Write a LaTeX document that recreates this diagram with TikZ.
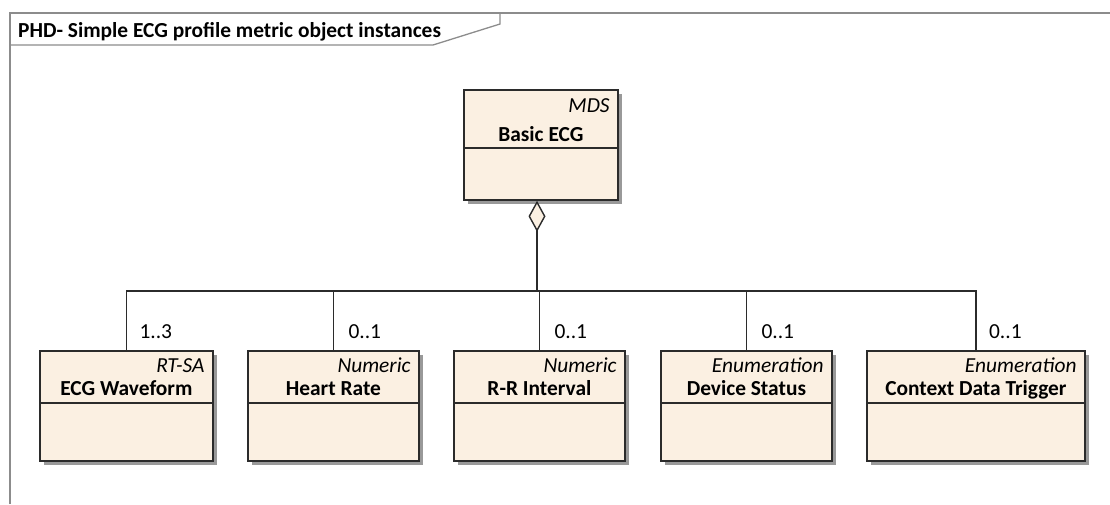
\documentclass[tikz,border=0pt]{standalone}
\usepackage{fontspec}
\setmainfont{Carlito}
\usetikzlibrary{shapes, arrows.meta, positioning, shadows}
\definecolor{clsfill}{HTML}{FBF0E2}
\definecolor{clsline}{HTML}{2B2B2B}
\definecolor{framecol}{HTML}{8C8C8C}
\tikzstyle{every node}=[font=\fontsize{21.4}{25}\selectfont, inner sep=0pt]
\tikzstyle{block}=[draw=clsline,fill=clsfill,rectangle,line width=1.8pt,anchor=north west,
  drop shadow={shadow xshift=4pt,shadow yshift=-4pt,opacity=0.4,fill=black}]
\tikzstyle{stereo}=[font=\fontsize{21.4}{25}\selectfont\itshape, anchor=base east]
\tikzstyle{cname}=[font=\fontsize{21.4}{25}\selectfont\bfseries, anchor=base]
\tikzstyle{mult}=[anchor=base west]
\tikzstyle{link}=[draw=clsline, line width=1.6pt]

\begin{document}
\begin{tikzpicture}[x=1pt,y=-1pt]
    \useasboundingbox (0,0) rectangle (1110,504);
    % frame
    \draw[framecol, line width=1.3pt] (10,504) -- (10,13) -- (1110,13);
    \draw[framecol, line width=1.3pt] (10,45) -- (433,45) -- (500,24) -- (500,13);
    \node[font=\fontsize{21.4}{25}\selectfont\bfseries, anchor=base west] (frametitle) at (18,37) {PHD- Simple ECG profile metric object instances};

    % MDS
    \node[block, minimum width=154pt, minimum height=110pt] (mds) at (463,89) {};
    \draw[link] ([yshift=-59pt]mds.north west) -- ([yshift=-59pt]mds.north east);
    \node[stereo] (mdsS) at ([xshift=-9pt,yshift=-23pt]mds.north east) {MDS};
    \node[cname] (mdsN) at ([yshift=-52pt]mds.north) {Basic ECG};

    % metric objects
    \node[block, minimum width=173pt, minimum height=110pt] (wave) at (39,350) {};
    \draw[link] ([yshift=-53pt]wave.north west) -- ([yshift=-53pt]wave.north east);
    \node[stereo] (waveS) at ([xshift=-9pt,yshift=-22pt]wave.north east) {RT-SA};
    \node[cname] (waveN) at ([yshift=-45pt]wave.north) {ECG Waveform};

    \node[block, minimum width=171pt, minimum height=110pt] (hr) at (247,350) {};
    \draw[link] ([yshift=-53pt]hr.north west) -- ([yshift=-53pt]hr.north east);
    \node[stereo] (hrS) at ([xshift=-9pt,yshift=-22pt]hr.north east) {Numeric};
    \node[cname] (hrN) at ([yshift=-45pt]hr.north) {Heart Rate};

    \node[block, minimum width=171pt, minimum height=110pt] (rr) at (453,350) {};
    \draw[link] ([yshift=-53pt]rr.north west) -- ([yshift=-53pt]rr.north east);
    \node[stereo] (rrS) at ([xshift=-9pt,yshift=-22pt]rr.north east) {Numeric};
    \node[cname] (rrN) at ([yshift=-45pt]rr.north) {R-R Interval};

    \node[block, minimum width=171pt, minimum height=110pt] (dev) at (660,350) {};
    \draw[link] ([yshift=-53pt]dev.north west) -- ([yshift=-53pt]dev.north east);
    \node[stereo] (devS) at ([xshift=-9pt,yshift=-22pt]dev.north east) {Enumeration};
    \node[cname] (devN) at ([yshift=-45pt]dev.north) {Device Status};

    \node[block, minimum width=218pt, minimum height=110pt] (ctx) at (866,350) {};
    \draw[link] ([yshift=-53pt]ctx.north west) -- ([yshift=-53pt]ctx.north east);
    \node[stereo] (ctxS) at ([xshift=-9pt,yshift=-22pt]ctx.north east) {Enumeration};
    \node[cname] (ctxN) at ([yshift=-45pt]ctx.north) {Context Data Trigger};

    % aggregation
    \coordinate (bus) at (537,291);
    \coordinate (agg) at (mds.south -| bus);
    \draw[link, line width=2pt, {Diamond[length=31pt,width=17pt,fill=clsfill,line width=1.4pt]}-] (agg) -- (bus);
    \draw[link] (wave.north) -- (wave.north |- bus) -- (ctx.north |- bus) -- (ctx.north);
    \draw[link] (hr.north) -- (hr.north |- bus);
    \draw[link] (rr.north) -- (rr.north |- bus);
    \draw[link] (dev.north) -- (dev.north |- bus);

    % multiplicities
    \node[mult] (waveM) at ([xshift=13pt,yshift=12pt]wave.north) {1..3};
    \node[mult] (hrM) at ([xshift=15pt,yshift=12pt]hr.north) {0..1};
    \node[mult] (rrM) at ([xshift=15pt,yshift=12pt]rr.north) {0..1};
    \node[mult] (devM) at ([xshift=15pt,yshift=12pt]dev.north) {0..1};
    \node[mult] (ctxM) at ([xshift=13pt,yshift=12pt]ctx.north) {0..1};
\end{tikzpicture}
\end{document}
